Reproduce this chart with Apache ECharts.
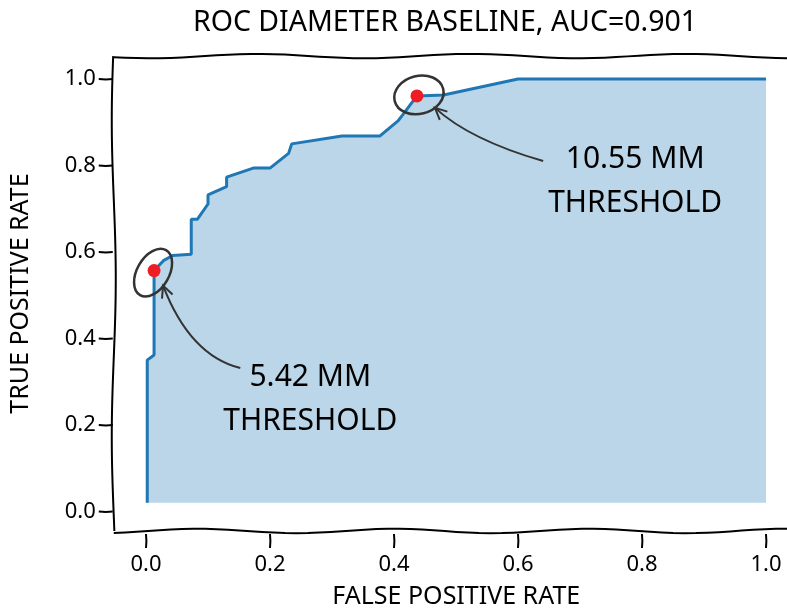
<!DOCTYPE html>
<html>
<head>
<meta charset="utf-8">
<script src="https://cdn.jsdelivr.net/npm/echarts@6/dist/echarts.min.js"></script>
<style>
html,body{margin:0;padding:0;background:#fff;}
#chart{width:787px;height:608px;}
</style>
</head>
<body>
<div id="chart"></div>
<script>
// ---- data ----
const fpr = [0.002, 0.002, 0.013, 0.013, 0.028, 0.043, 0.073, 0.073, 0.083, 0.100, 0.100, 0.130, 0.130, 0.173, 0.200, 0.230, 0.235, 0.316, 0.377, 0.407, 0.414, 0.437, 0.480, 0.600, 1.000];
const tpr = [0.020, 0.350, 0.362, 0.557, 0.580, 0.592, 0.595, 0.676, 0.676, 0.711, 0.732, 0.751, 0.773, 0.794, 0.794, 0.828, 0.850, 0.868, 0.868, 0.904, 0.917, 0.961, 0.963, 1.000, 1.000];
const thrFpr = [0.013, 0.437];
const thrTpr = [0.557, 0.961];
const thrLabels = ['5.42 MM', '10.55 MM'];
const xTicks = [0, 0.2, 0.4, 0.6, 0.8, 1.0];
const yTicks = [0, 0.2, 0.4, 0.6, 0.8, 1.0];
const titleText = 'ROC DIAMETER BASELINE, AUC=0.901';
const xName = 'FALSE POSITIVE RATE';
const yName = 'TRUE POSITIVE RATE';
const noteWord = 'THRESHOLD';
const areaBase = 0.02;

const FONT = "'Humor Sans', 'Comic Sans MS', 'Noto Sans', sans-serif";
const chart = echarts.init(document.getElementById('chart'));

// axis frame (data units) and the full-canvas grid ranges
const FX0 = -0.052, FX1 = 1.0335, FY0 = -0.045, FY1 = 1.053;
const GX0 = -0.2355, GX1 = 1.0339, GY0 = -0.2231, GY1 = 1.1827;

const option = {
  animation: false,
  backgroundColor: '#fff',
  title: {
    text: titleText,
    left: 440, top: 3, textAlign: 'center',
    textStyle: {fontFamily: FONT, fontSize: 28.5, fontWeight: 'normal', color: '#000'}
  },
  grid: {left: 0, top: 0, right: 0, bottom: 0, outerBoundsMode: 'none', containLabel: false},
  xAxis: {type: 'value', min: GX0, max: GX1, show: false},
  yAxis: {type: 'value', min: GY0, max: GY1, show: false},
  series: [
    {
      type: 'line',
      data: fpr.map((x, i) => [x, tpr[i]]),
      showSymbol: false,
      lineStyle: {color: '#1f77b4', width: 3},
      areaStyle: {color: 'rgba(31,119,180,0.3)', origin: areaBase, opacity: 1},
      z: 2
    },
    {
      type: 'scatter',
      data: thrFpr.map((x, i) => [x, thrTpr[i]]),
      symbolSize: 13,
      itemStyle: {color: '#ee1c25', opacity: 1},
      z: 4
    }
  ]
};
chart.setOption(option);

// ---- decorations: wobbly frame, ticks, tick labels, names, circles, arrows, notes ----
function wobbly(p0, p1, amp, waves, phase) {
  const pts = [];
  const n = 60;
  const dx = p1[0] - p0[0], dy = p1[1] - p0[1];
  const len = Math.hypot(dx, dy);
  const nx = -dy / len, ny = dx / len;
  for (let i = 0; i <= n; i++) {
    const t = i / n;
    const off = amp * Math.sin(2 * Math.PI * waves * t + phase);
    pts.push([p0[0] + dx * t + nx * off, p0[1] + dy * t + ny * off]);
  }
  return pts;
}
const toPx = (x, y) => chart.convertToPixel({gridIndex: 0}, [x, y]);
const tl = toPx(FX0, FY1), br = toPx(FX1, FY0);
const frameStyle = {stroke: '#000', lineWidth: 2, fill: null};
const tickStyle = {stroke: '#000', lineWidth: 2, fill: null};
const lblStyle = {fontFamily: FONT, fontSize: 22, fill: '#000'};
const g = [];
g.push({type: 'polyline', shape: {points: wobbly([tl[0], tl[1]], [br[0] + 12, tl[1]], 2.2, 3.2, 0.5)}, style: frameStyle, z: 10});
g.push({type: 'polyline', shape: {points: wobbly([tl[0], br[1]], [br[0] + 12, br[1]], 2.2, 3.5, 2.0)}, style: frameStyle, z: 10});
g.push({type: 'polyline', shape: {points: wobbly([tl[0], tl[1]], [tl[0], br[1]], 2.0, 1.5, 0.3)}, style: frameStyle, z: 10});
xTicks.forEach(v => {
  const p = toPx(v, FY0);
  g.push({type: 'polyline', shape: {points: [[p[0], p[1] + 3], [p[0] + 0.4, p[1] + 10], [p[0], p[1] + 17]]}, style: tickStyle, z: 10});
  g.push({type: 'text', x: p[0], y: p[1] + 34, z: 10,
    style: Object.assign({text: v.toFixed(1), align: 'center', verticalAlign: 'middle'}, lblStyle)});
});
yTicks.forEach(v => {
  const p = toPx(FX0, v);
  g.push({type: 'polyline', shape: {points: [[p[0] - 15, p[1]], [p[0] - 8, p[1] + 0.4], [p[0] - 1, p[1]]]}, style: tickStyle, z: 10});
  g.push({type: 'text', x: p[0] - 18, y: p[1], z: 10,
    style: Object.assign({text: v.toFixed(1), align: 'right', verticalAlign: 'middle'}, lblStyle)});
});
g.push({type: 'text', x: (tl[0] + br[0] + 12) / 2, y: br[1] + 66, z: 10,
  style: {text: xName, fontFamily: FONT, fontSize: 25, fill: '#000', align: 'center', verticalAlign: 'middle'}});
g.push({type: 'text', x: 21, y: (tl[1] + br[1]) / 2, rotation: Math.PI / 2, z: 10,
  style: {text: yName, fontFamily: FONT, fontSize: 25, fill: '#000', align: 'center', verticalAlign: 'middle'}});

const notes = [
  {tx: 0.265, ty: 0.26, circ: {a: 26, b: 16, rot: Math.PI / 3, dx: -1, dy: 2},
   start: [-70, -31], ctrl: [36, 85], end: [9, 15]},
  {tx: 0.789, ty: 0.764, circ: {a: 25, b: 19, rot: 0.25, dx: 2, dy: -1},
   start: [-92, -20], ctrl: [53, 44], end: [18, 12]}
];
notes.forEach((n, i) => {
  const p = toPx(thrFpr[i], thrTpr[i]);
  g.push({type: 'ellipse', x: p[0] + n.circ.dx, y: p[1] + n.circ.dy, rotation: n.circ.rot,
    shape: {cx: 0, cy: 0, rx: n.circ.a, ry: n.circ.b},
    style: {stroke: '#333', lineWidth: 2.5, fill: null}, z: 8});
  const t = toPx(n.tx, n.ty);
  const e = [p[0] + n.end[0], p[1] + n.end[1]];
  const start = [t[0] + n.start[0], t[1] + n.start[1]];
  const cp = [p[0] + n.ctrl[0], p[1] + n.ctrl[1]];
  g.push({type: 'bezierCurve', shape: {x1: start[0], y1: start[1], x2: e[0], y2: e[1], cpx1: cp[0], cpy1: cp[1]},
    style: {stroke: '#333', lineWidth: 2, fill: null}, z: 8});
  const ang = Math.atan2(e[1] - cp[1], e[0] - cp[0]);
  const L = 13, spread = 0.45;
  const h1 = [e[0] - L * Math.cos(ang - spread), e[1] - L * Math.sin(ang - spread)];
  const h2 = [e[0] - L * Math.cos(ang + spread), e[1] - L * Math.sin(ang + spread)];
  g.push({type: 'polyline', shape: {points: [h1, e, h2]}, style: {stroke: '#333', lineWidth: 2, fill: null}, z: 8});
  g.push({type: 'text', x: t[0], y: t[1] - 22, z: 9,
    style: {text: thrLabels[i], fontFamily: FONT, fontSize: 30, fill: '#000', align: 'center', verticalAlign: 'middle'}});
  g.push({type: 'text', x: t[0], y: t[1] + 22, z: 9,
    style: {text: noteWord, fontFamily: FONT, fontSize: 30, fill: '#000', align: 'center', verticalAlign: 'middle'}});
});
chart.setOption({graphic: {elements: g}});
</script>
</body>
</html>
